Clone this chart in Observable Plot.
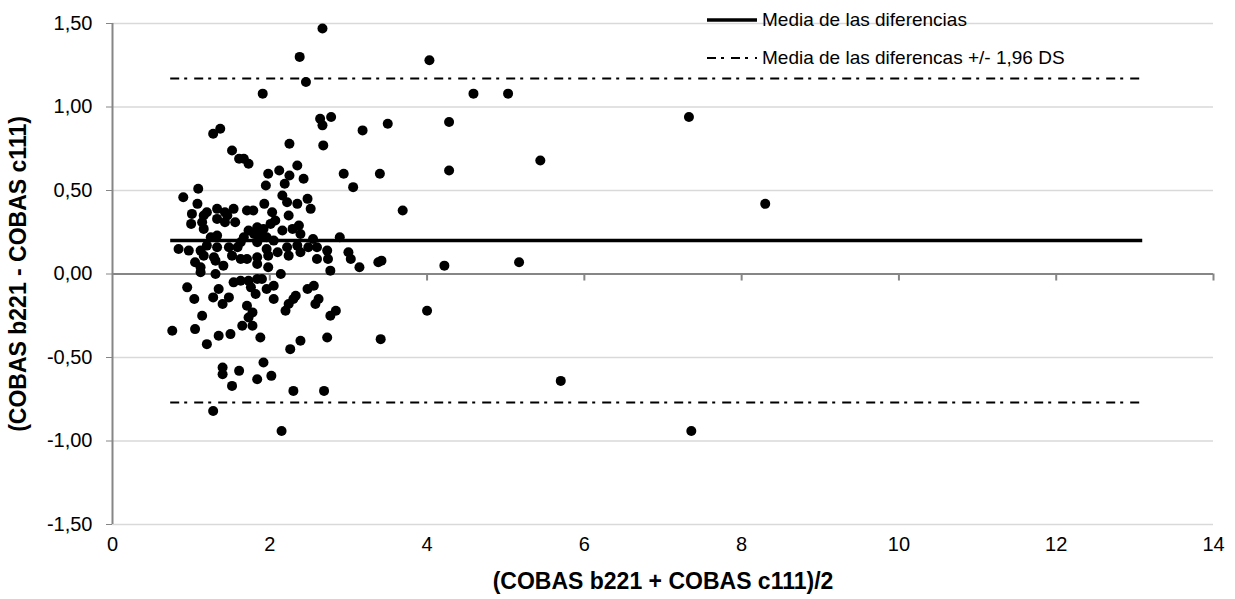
<!DOCTYPE html>
<html>
<head>
<meta charset="utf-8">
<script src="https://cdn.jsdelivr.net/npm/d3@7"></script>
<script src="https://cdn.jsdelivr.net/npm/@observablehq/plot@0.6"></script>
<style>
  html, body { margin: 0; padding: 0; background: #fff; }
  #wrap { position: relative; width: 1235px; height: 599px; font-family: "Liberation Sans", Arial, sans-serif; }
  .leg { position: absolute; left: 707px; display: flex; align-items: center; font-size: 19px; color: #000; }
  .leg svg { margin-right: 5px; }
</style>
</head>
<body>
<div id="wrap"></div>
<script>
// Bland-Altman data: x = mean of both methods, y = difference
const meanVals = [
  2.67, 2.38, 2.46, 1.91, 4.03, 4.59, 5.03, 7.33, 8.30, 5.44,
  4.28, 4.28, 3.18, 3.50, 2.78, 2.94, 3.40, 3.06, 3.69, 2.89,
  3.00, 3.03, 3.14, 3.38, 3.42, 4.22, 5.17, 2.84, 4.00, 3.41,
  5.70, 7.36, 1.28, 1.37, 1.52, 1.61, 1.67, 1.73, 2.25, 2.64,
  2.67, 2.68, 1.98, 2.12, 2.25, 2.35, 2.43, 2.19, 1.95, 0.90,
  1.09, 1.08, 2.16, 2.22, 2.35, 2.48, 2.52, 1.93, 1.01, 1.20,
  1.33, 1.43, 1.54, 1.71, 1.79, 2.03, 2.24, 1.00, 1.14, 1.33,
  1.43, 1.56, 1.16, 1.33, 1.25, 1.73, 1.84, 1.92, 2.01, 2.16,
  2.29, 2.37, 2.39, 1.67, 1.80, 1.88, 1.96, 2.05, 1.63, 0.84,
  0.97, 1.12, 1.20, 1.33, 1.48, 1.59, 1.84, 1.96, 2.10, 2.22,
  2.35, 2.49, 2.60, 2.73, 2.24, 2.39, 2.60, 2.74, 1.16, 1.29,
  1.52, 1.63, 1.71, 1.84, 1.98, 1.05, 1.12, 1.31, 1.41, 1.84,
  1.98, 2.77, 1.12, 1.31, 2.14, 1.54, 1.63, 1.73, 1.84, 1.90,
  1.76, 1.96, 2.05, 1.82, 0.95, 1.35, 1.04, 1.28, 1.48, 1.40,
  1.71, 2.05, 2.30, 2.48, 2.56, 2.62, 2.58, 2.24, 2.20, 1.78,
  1.14, 2.77, 1.73, 0.76, 1.05, 1.65, 1.78, 1.35, 1.50, 1.88,
  1.20, 2.39, 2.26, 2.73, 1.40, 1.40, 1.61, 1.52, 1.92, 1.84,
  2.02, 2.30, 2.69, 1.28, 2.15, 2.07, 2.33, 1.16, 1.46, 2.55
];
const diffVals = [
  1.47, 1.30, 1.15, 1.08, 1.28, 1.08, 1.08, 0.94, 0.42, 0.68,
  0.91, 0.62, 0.86, 0.90, 0.94, 0.60, 0.60, 0.52, 0.38, 0.22,
  0.13, 0.09, 0.04, 0.07, 0.08, 0.05, 0.07, -0.22, -0.22, -0.39,
  -0.64, -0.94, 0.84, 0.87, 0.74, 0.69, 0.69, 0.66, 0.78, 0.93,
  0.89, 0.77, 0.60, 0.62, 0.59, 0.65, 0.57, 0.54, 0.53, 0.46,
  0.51, 0.42, 0.47, 0.43, 0.42, 0.45, 0.39, 0.42, 0.36, 0.37,
  0.39, 0.37, 0.39, 0.38, 0.38, 0.37, 0.35, 0.30, 0.31, 0.33,
  0.31, 0.31, 0.27, 0.23, 0.22, 0.26, 0.28, 0.27, 0.30, 0.26,
  0.27, 0.29, 0.24, 0.22, 0.24, 0.23, 0.22, 0.20, 0.19, 0.15,
  0.14, 0.14, 0.17, 0.16, 0.16, 0.16, 0.19, 0.15, 0.13, 0.16,
  0.17, 0.16, 0.16, 0.14, 0.11, 0.13, 0.09, 0.09, 0.11, 0.10,
  0.11, 0.09, 0.09, 0.10, 0.11, 0.07, 0.04, 0.08, 0.05, 0.06,
  0.04, 0.02, 0.01, 0.00, 0.00, -0.05, -0.04, -0.04, -0.03, -0.03,
  -0.08, -0.09, -0.07, -0.12, -0.08, -0.09, -0.15, -0.14, -0.14, -0.18,
  -0.19, -0.15, -0.15, -0.09, -0.07, -0.15, -0.18, -0.18, -0.22, -0.23,
  -0.25, -0.25, -0.26, -0.34, -0.33, -0.31, -0.31, -0.37, -0.36, -0.38,
  -0.42, -0.40, -0.45, -0.38, -0.56, -0.60, -0.58, -0.67, -0.53, -0.63,
  -0.61, -0.70, -0.70, -0.82, -0.94, 0.32, -0.13, 0.35, 0.35, 0.21
];
const meanDiff = 0.20;
const upperLoA = 1.17;
const lowerLoA = -0.77;
const lineRange = [0.74, 13.1];
const xTicks = [0, 2, 4, 6, 8, 10, 12, 14];
const yTicks = [-1.5, -1, -0.5, 0, 0.5, 1, 1.5];
const xLabel = "(COBAS b221 + COBAS c111)/2";
const yLabel = "(COBAS b221 - COBAS c111)";
const legendLabels = ["Media de las diferencias", "Media de las diferencas +/- 1,96 DS"];

const points = meanVals.map((x, i) => ({x, y: diffVals[i]}));
const fmt = d => d.toFixed(2).replace(".", ",");
const axisGray = "#868686";

const chart = Plot.plot({
  width: 1235,
  height: 599,
  marginLeft: 112,
  marginRight: 22,
  marginTop: 23,
  marginBottom: 75,
  style: {fontFamily: "'Liberation Sans', Arial, sans-serif", background: "#fff"},
  x: {domain: [0, 14], ticks: xTicks},
  y: {domain: [-1.5, 1.5], ticks: yTicks},
  marks: [
    Plot.gridY(yTicks, {stroke: "#d9d9d9", strokeOpacity: 1, strokeWidth: 1.5}),
    Plot.ruleX([0], {y1: -1.5, y2: 1.5, stroke: axisGray, strokeWidth: 2}),
    Plot.axisY({ticks: yTicks, tickFormat: fmt, tickSize: 6, tickPadding: 14, stroke: axisGray, fontSize: 20, label: null}),
    Plot.axisX({ticks: xTicks, tickSize: 0, tickPadding: 12, fontSize: 20, label: null}),
    Plot.ruleY([0], {stroke: axisGray, strokeWidth: 2}),
    Plot.ruleX(xTicks.slice(1), {x: d => d, y1: 0, y2: -0.042, stroke: axisGray, strokeWidth: 2}),
    Plot.ruleY([upperLoA, lowerLoA], {x1: lineRange[0], x2: lineRange[1], stroke: "#000", strokeWidth: 2, strokeDasharray: "9,5,3,7"}),
    Plot.ruleY([meanDiff], {x1: lineRange[0], x2: lineRange[1], stroke: "#000", strokeWidth: 3.5}),
    Plot.dot(points, {x: "x", y: "y", r: 5, fill: "#000", stroke: "none"}),
    Plot.text([yLabel], {frameAnchor: "left", textAnchor: "middle", lineAnchor: "middle", rotate: -90, dx: -94, fontSize: 23, fontWeight: "bold", fill: "#000"}),
    Plot.text([xLabel], {frameAnchor: "bottom", textAnchor: "middle", lineAnchor: "middle", dy: 57, fontSize: 23, fontWeight: "bold", fill: "#000"})
  ]
});

const wrap = document.getElementById("wrap");
wrap.appendChild(chart);

function legendItem(label, top, dash, sw) {
  const d = document.createElement("div");
  d.className = "leg";
  d.style.top = top + "px";
  d.innerHTML = `<svg width="50" height="10"><line x1="0" x2="50" y1="5" y2="5" stroke="#000" stroke-width="${sw}" ${dash ? `stroke-dasharray="${dash}"` : ""}/></svg><span>${label}</span>`;
  wrap.appendChild(d);
}
legendItem(legendLabels[0], 9, null, 3.5);
legendItem(legendLabels[1], 47, "9,5,3,7", 2);
</script>
</body>
</html>
